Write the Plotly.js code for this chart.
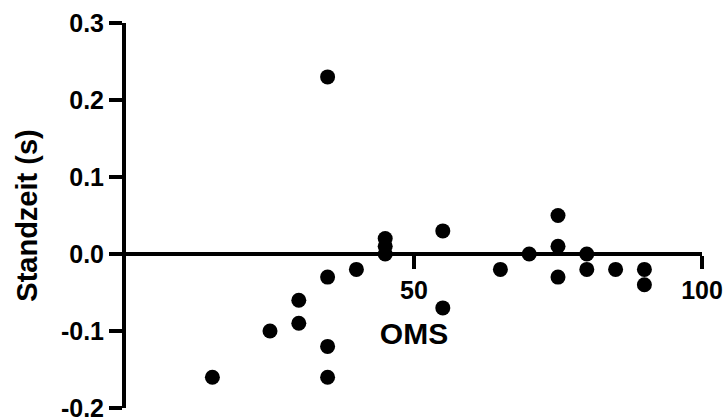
<!DOCTYPE html>
<html>
<head>
<meta charset="utf-8">
<script src="https://cdn.plot.ly/plotly-3.0.1.min.js"></script>
<style>
  html, body { margin: 0; padding: 0; background: #fff; }
  #chart { width: 727px; height: 420px; }
</style>
</head>
<body>
<div id="chart"></div>
<script>
// OMS score vs. standing-time difference (s)
const omsValues = [15, 25, 30, 30, 35, 35, 35, 35, 40, 45, 45, 45, 55, 55, 65, 70, 75, 75, 75, 80, 80, 85, 90, 90];
const standzeit = [-0.16, -0.10, -0.06, -0.09, 0.23, -0.03, -0.12, -0.16, -0.02, 0.02, 0.01, 0.00, 0.03, -0.07, -0.02, 0.00, 0.05, 0.01, -0.03, 0.00, -0.02, -0.02, -0.02, -0.04];

const xTickVals = [50, 100];
const xTickText = ["50", "100"];
const yTickVals = [-0.2, -0.1, 0.0, 0.1, 0.2, 0.3];
const yTickText = ["-0.2", "-0.1", "0.0", "0.1", "0.2", "0.3"];

const font = "Liberation Sans, Arial, Helvetica, sans-serif";
const bold = arr => arr.map(t => "<b>" + t + "</b>");

const trace = {
  type: "scatter",
  mode: "markers",
  x: omsValues,
  y: standzeit,
  marker: { color: "#000", size: 15, line: { width: 0 } },
  cliponaxis: false,
  hoverinfo: "x+y"
};

const layout = {
  width: 727,
  height: 420,
  margin: { l: 126, r: 25, t: 23, b: 12 },
  paper_bgcolor: "#fff",
  plot_bgcolor: "#fff",
  showlegend: false,
  font: { family: font, color: "#000" },
  xaxis: {
    range: [0, 100],
    anchor: "free",
    position: 0.4,
    showgrid: false,
    zeroline: false,
    showline: true,
    linecolor: "#000",
    linewidth: 4,
    ticks: "outside",
    ticklen: 13,
    tickwidth: 4,
    tickcolor: "#000",
    tickvals: xTickVals,
    ticktext: bold(xTickText),
    ticklabeloverflow: "allow",
    tickfont: { family: font, size: 25, color: "#000" },
    title: { text: "<b>OMS</b>", font: { family: font, size: 30, color: "#000" }, standoff: 19 }
  },
  yaxis: {
    range: [-0.2, 0.3],
    showgrid: false,
    zeroline: false,
    showline: true,
    linecolor: "#000",
    linewidth: 4,
    ticks: "outside",
    ticklen: 13,
    tickwidth: 4,
    tickcolor: "#000",
    tickvals: yTickVals,
    ticktext: bold(yTickText),
    ticklabeloverflow: "allow",
    tickfont: { family: font, size: 25, color: "#000" },
    title: { text: "<b>Standzeit (s)</b>", font: { family: font, size: 29, color: "#000" }, standoff: 16 }
  }
};

Plotly.newPlot("chart", [trace], layout, { displayModeBar: false, staticPlot: true });
</script>
</body>
</html>
